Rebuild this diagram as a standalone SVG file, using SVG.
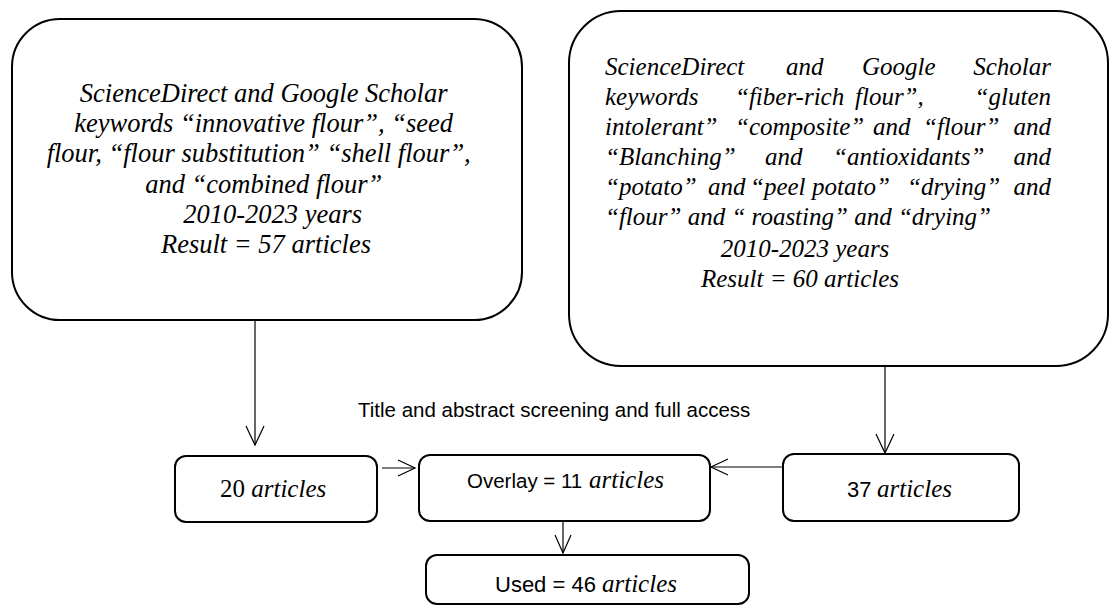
<svg xmlns="http://www.w3.org/2000/svg" width="1109" height="605" viewBox="0 0 1109 605">
<style>
.big{fill:#fff;stroke:#000;stroke-width:2}
.box{fill:#fff;stroke:#000;stroke-width:2}
.ti{font-family:"Liberation Serif","Times New Roman",serif;font-style:italic;font-size:25px;fill:#000}
.tl{font-family:"Liberation Serif","Times New Roman",serif;font-style:italic;font-size:26.5px;fill:#000}
.sr{font-family:"Liberation Serif","Times New Roman",serif;font-size:25px;fill:#000}
.sn{font-family:"Liberation Sans",Arial,sans-serif;font-size:20.5px;fill:#000}
.sb{font-family:"Liberation Sans",Arial,sans-serif;font-size:22px;fill:#000}
.ln{fill:none;stroke:#000;stroke-width:1.2}
</style>
<rect width="1109" height="605" fill="#fff"/>
<g id="connectors">
<line class="ln" x1="255" y1="320" x2="255" y2="445"/>
<polyline class="ln" points="246,426 255,445 264,426"/>
<line class="ln" x1="885" y1="366" x2="885" y2="453"/>
<polyline class="ln" points="876,434 885,453 894,434"/>
<line class="ln" x1="382" y1="468" x2="415" y2="468"/>
<polyline class="ln" points="398,460 415,468 398,476"/>
<line class="ln" x1="783" y1="467" x2="711" y2="467"/>
<polyline class="ln" points="728,459 711,467 728,475"/>
<line class="ln" x1="563" y1="521" x2="563" y2="553"/>
<polyline class="ln" points="555,535 563,553 571,535"/>
</g>
<g id="node-left">
<rect class="big" x="12" y="19" width="510" height="301" rx="48" ry="48"/>
<text class="tl" text-anchor="middle">
<tspan x="267" y="102">ScienceDirect and Google Scholar</tspan>
<tspan x="267" y="132">keywords “innovative flour”, “seed</tspan>
<tspan x="262" y="162">flour, “flour substitution” “shell flour”,</tspan>
<tspan x="267" y="193">and “combined flour”</tspan>
<tspan x="276" y="223">2010-2023 years</tspan>
<tspan x="266" y="253">Result = 57 articles</tspan>
</text>
</g>
<g id="node-right">
<rect class="big" x="569" y="11" width="539" height="355" rx="52" ry="52"/>
<g class="ti">
<text y="75"><tspan x="605">ScienceDirect</tspan><tspan x="786">and</tspan><tspan x="862">Google</tspan><tspan x="1051" text-anchor="end">Scholar</tspan></text>
<text y="105"><tspan x="605">keywords</tspan><tspan x="735">“fiber-rich</tspan><tspan x="855">flour”,</tspan><tspan x="1051" text-anchor="end">“gluten</tspan></text>
<text y="135"><tspan x="605">intolerant”</tspan><tspan x="735">“composite”</tspan><tspan x="873">and</tspan><tspan x="923">“flour”</tspan><tspan x="1051" text-anchor="end">and</tspan></text>
<text y="165"><tspan x="605">“Blanching”</tspan><tspan x="765">and</tspan><tspan x="833">“antioxidants”</tspan><tspan x="1051" text-anchor="end">and</tspan></text>
<text y="195"><tspan x="605">“potato”</tspan><tspan x="708">and</tspan><tspan x="750">“peel</tspan><tspan x="812">potato”</tspan><tspan x="907">“drying”</tspan><tspan x="1051" text-anchor="end">and</tspan></text>
<text x="605" y="225">“flour” and “ roasting” and “drying”</text>
<text x="805" y="257" text-anchor="middle">2010-2023 years</text>
<text x="800" y="287" text-anchor="middle">Result = 60 articles</text>
</g>
</g>
<g id="label-screening">
<text class="sn" x="358" y="417" font-size="20.3">Title and abstract screening and full access</text>
</g>
<g id="node-20">
<rect class="box" x="175" y="456" width="202" height="66" rx="11" ry="11"/>
<text y="497"><tspan class="sr" x="220">20 </tspan><tspan class="ti">articles</tspan></text>
</g>
<g id="node-overlay">
<rect class="box" x="419" y="455" width="291" height="66" rx="11" ry="11"/>
<text x="467" y="488"><tspan class="sn">Overlay = 11</tspan><tspan class="ti" x="589">articles</tspan></text>
</g>
<g id="node-37">
<rect class="box" x="783" y="454" width="236" height="67" rx="11" ry="11"/>
<text x="847" y="497"><tspan class="sb">37</tspan><tspan class="ti" x="877">articles</tspan></text>
</g>
<g id="node-used">
<rect class="box" x="426" y="555" width="323" height="49" rx="11" ry="11"/>
<text x="495" y="592"><tspan class="sb">Used = 46</tspan><tspan class="ti" x="602">articles</tspan></text>
</g>
</svg>
